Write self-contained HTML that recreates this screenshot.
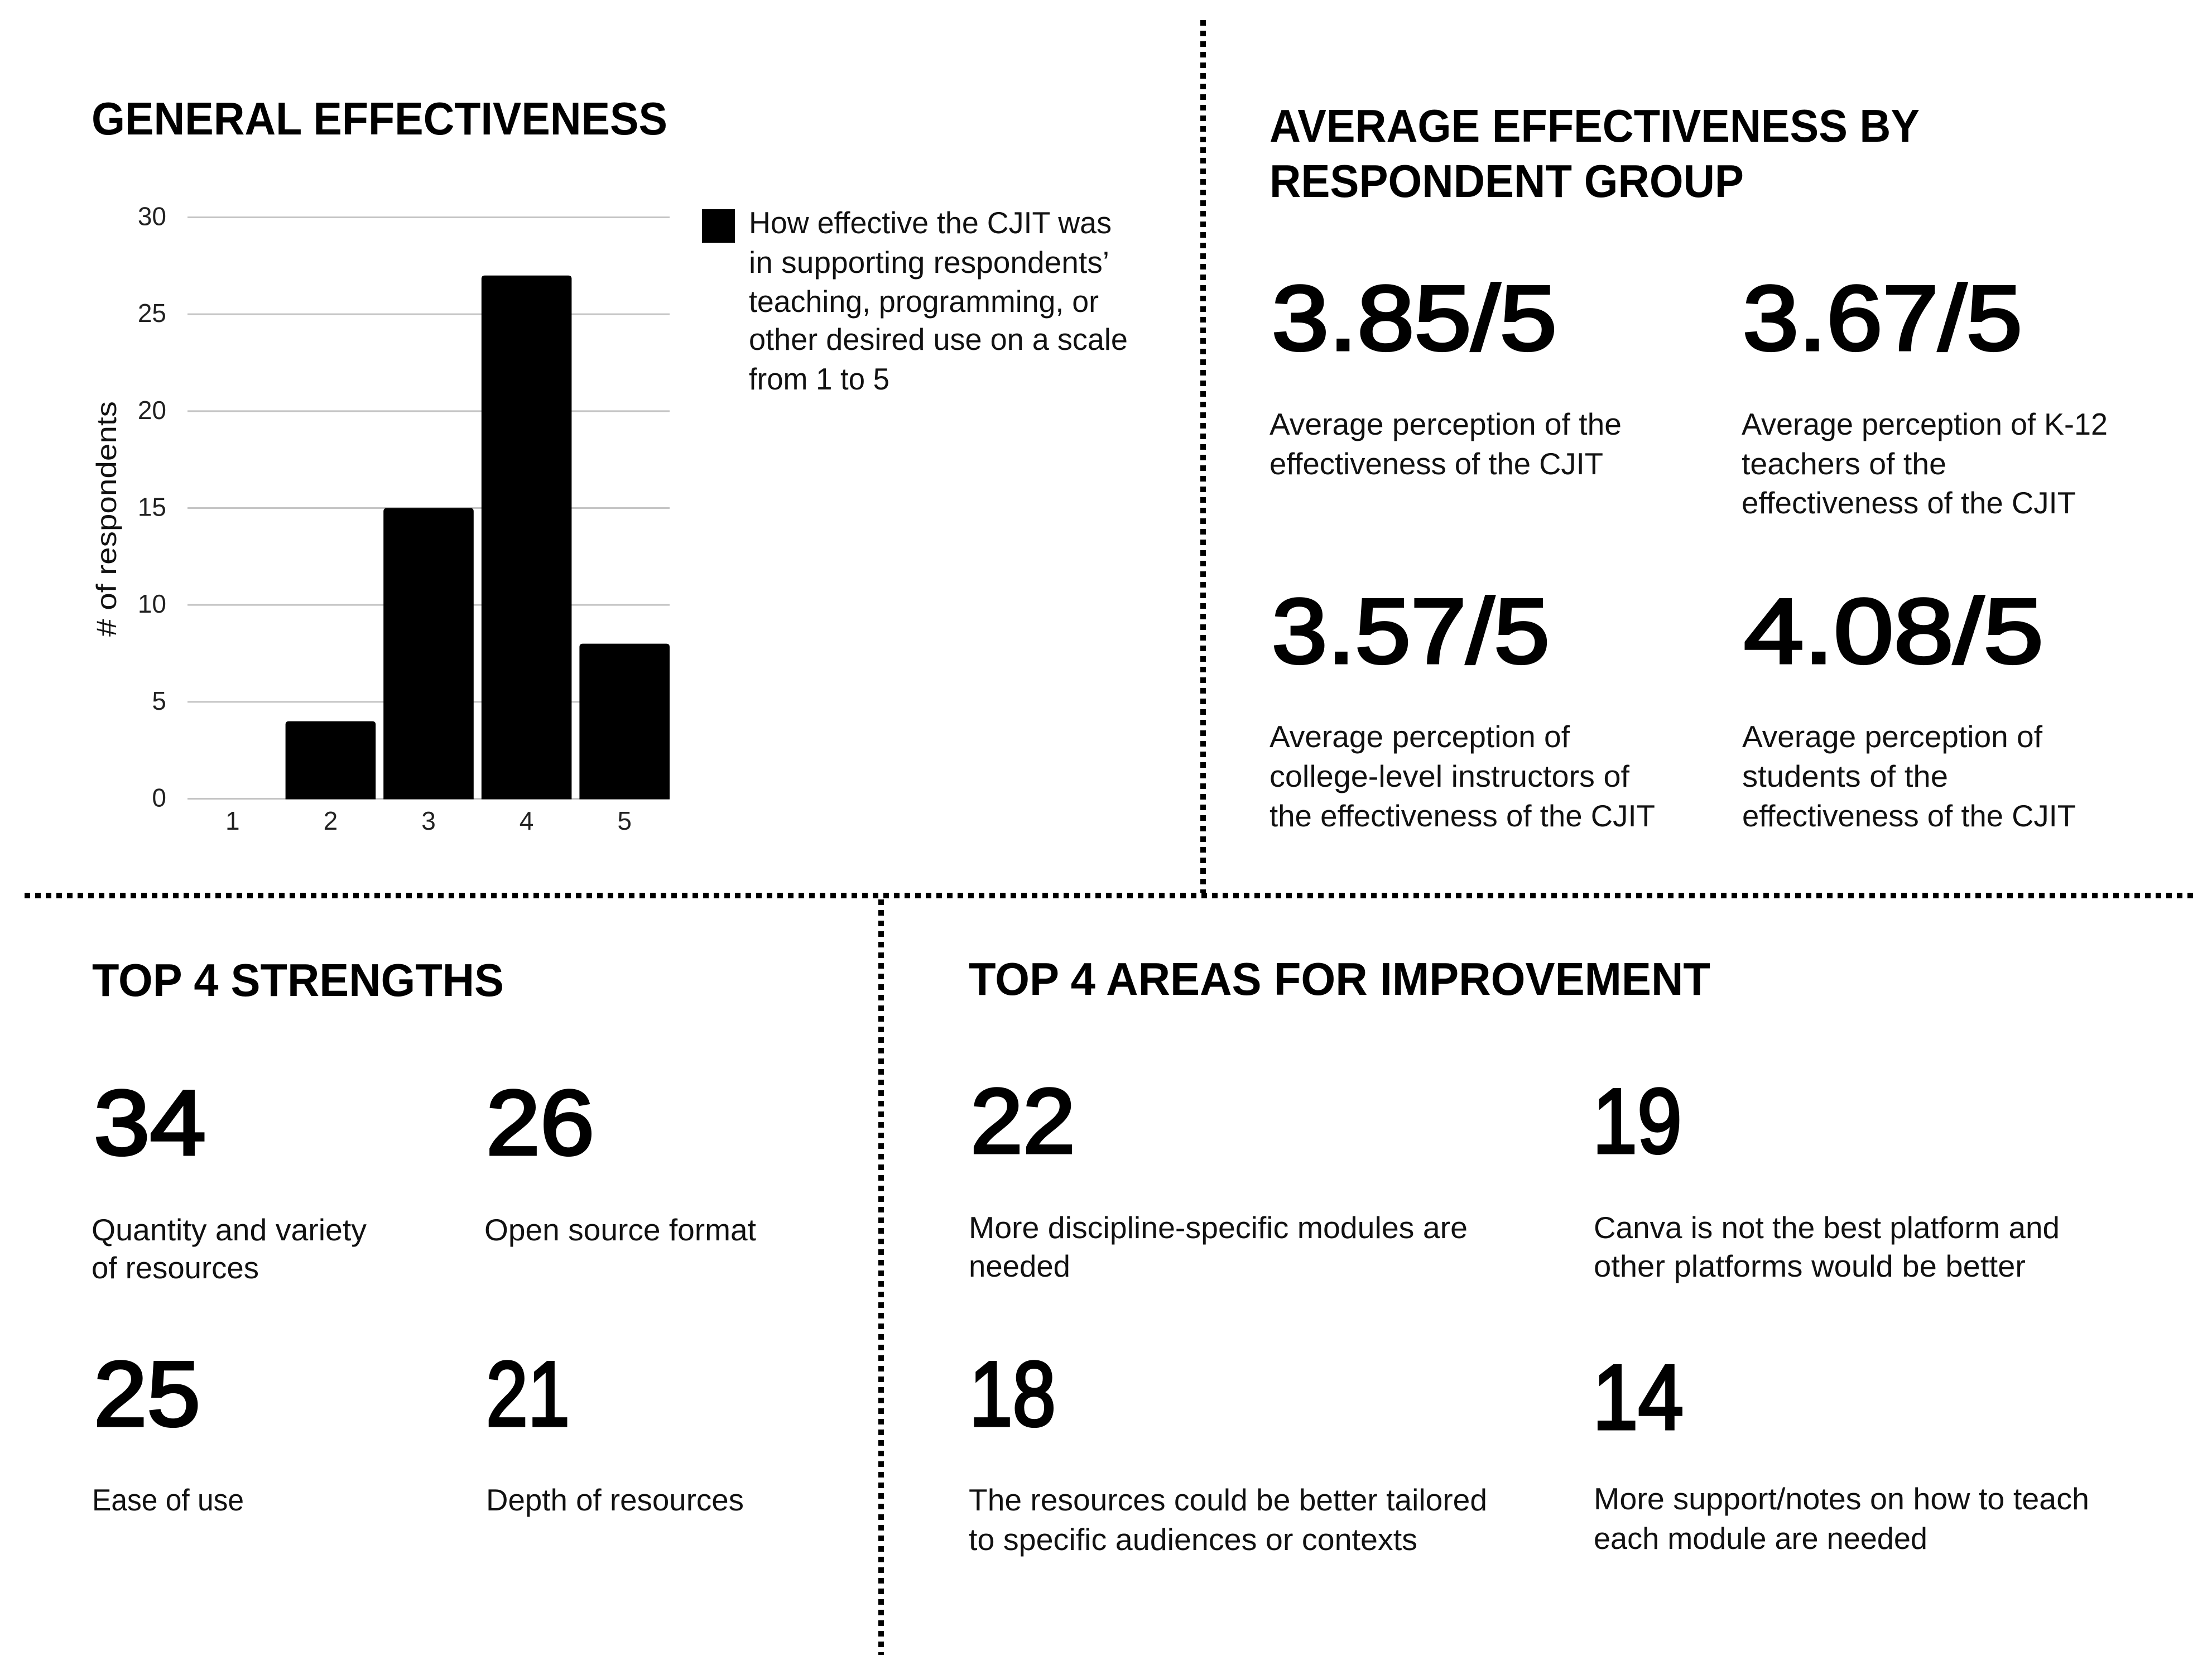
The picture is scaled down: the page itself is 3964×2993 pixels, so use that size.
<!DOCTYPE html>
<html lang="en">
<head>
<meta charset="utf-8">
<title>CJIT effectiveness summary</title>
<style>
html,body{margin:0;padding:0;background:#fff;}
svg{display:block;}
text{font-family:"Liberation Sans",sans-serif;fill:#000;}
.title{font-size:83px;font-weight:700;}
.big{font-size:165px;font-weight:400;stroke:#000;stroke-width:5px;}
.num{font-size:165px;font-weight:400;stroke:#000;stroke-width:5px;}
.desc{font-size:55px;fill:#111;}
.tick{font-size:46px;fill:#222;}
.axis-title{font-size:50px;fill:#111;}
.divider{stroke:#000;stroke-width:10;stroke-dasharray:10 9;fill:none;}
</style>
</head>
<body>
<svg id="page" xmlns="http://www.w3.org/2000/svg" width="3964" height="2993" viewBox="0 0 3964 2993">
  <rect x="0" y="0" width="3964" height="2993" fill="#fff"/>

  <line class="divider" x1="2156" y1="36" x2="2156" y2="1600"/>
  <line class="divider" x1="44" y1="1605" x2="3935" y2="1605"/>
  <line class="divider" x1="1579" y1="1612" x2="1579" y2="2966"/>

  <text class="title" x="164" y="241" textLength="1032" lengthAdjust="spacingAndGlyphs">GENERAL EFFECTIVENESS</text>

  <g id="chart"></g>

  <rect x="1258" y="375" width="59" height="60" fill="#000"/>
  <g>
    <text class="desc" x="1342" y="418" textLength="650" lengthAdjust="spacingAndGlyphs">How effective the CJIT was</text>
    <text class="desc" x="1342" y="489" textLength="646" lengthAdjust="spacingAndGlyphs">in supporting respondents’</text>
    <text class="desc" x="1342" y="559" textLength="627" lengthAdjust="spacingAndGlyphs">teaching, programming, or</text>
    <text class="desc" x="1342" y="627" textLength="679" lengthAdjust="spacingAndGlyphs">other desired use on a scale</text>
    <text class="desc" x="1342" y="698" textLength="252" lengthAdjust="spacingAndGlyphs">from 1 to 5</text>
  </g>

  <text class="title" x="2275" y="254" textLength="1165" lengthAdjust="spacingAndGlyphs">AVERAGE EFFECTIVENESS BY</text>
  <text class="title" x="2275" y="353" textLength="850" lengthAdjust="spacingAndGlyphs">RESPONDENT GROUP</text>

  <text class="big" x="2279" y="627" textLength="511" lengthAdjust="spacingAndGlyphs">3.85/5</text>
  <g>
    <text class="desc" x="2275" y="779" textLength="631" lengthAdjust="spacingAndGlyphs">Average perception of the</text>
    <text class="desc" x="2275" y="850" textLength="598" lengthAdjust="spacingAndGlyphs">effectiveness of the CJIT</text>
  </g>

  <text class="big" x="3123" y="627" textLength="501" lengthAdjust="spacingAndGlyphs">3.67/5</text>
  <g>
    <text class="desc" x="3121" y="779" textLength="656" lengthAdjust="spacingAndGlyphs">Average perception of K-12</text>
    <text class="desc" x="3121" y="850" textLength="367" lengthAdjust="spacingAndGlyphs">teachers of the</text>
    <text class="desc" x="3121" y="920" textLength="599" lengthAdjust="spacingAndGlyphs">effectiveness of the CJIT</text>
  </g>

  <text class="big" x="2279" y="1188" textLength="498" lengthAdjust="spacingAndGlyphs">3.57/5</text>
  <g>
    <text class="desc" x="2275" y="1339" textLength="538" lengthAdjust="spacingAndGlyphs">Average perception of</text>
    <text class="desc" x="2275" y="1410" textLength="645" lengthAdjust="spacingAndGlyphs">college-level instructors of</text>
    <text class="desc" x="2275" y="1481" textLength="691" lengthAdjust="spacingAndGlyphs">the effectiveness of the CJIT</text>
  </g>

  <text class="big" x="3125" y="1188" textLength="537" lengthAdjust="spacingAndGlyphs">4.08/5</text>
  <g>
    <text class="desc" x="3122" y="1339" textLength="538" lengthAdjust="spacingAndGlyphs">Average perception of</text>
    <text class="desc" x="3122" y="1410" textLength="369" lengthAdjust="spacingAndGlyphs">students of the</text>
    <text class="desc" x="3122" y="1481" textLength="598" lengthAdjust="spacingAndGlyphs">effectiveness of the CJIT</text>
  </g>

  <text class="title" x="165" y="1785" textLength="738" lengthAdjust="spacingAndGlyphs">TOP 4 STRENGTHS</text>

  <text class="num" x="168" y="2069" textLength="201" lengthAdjust="spacingAndGlyphs">34</text>
  <g>
    <text class="desc" x="164" y="2223" textLength="493" lengthAdjust="spacingAndGlyphs">Quantity and variety</text>
    <text class="desc" x="164" y="2291" textLength="300" lengthAdjust="spacingAndGlyphs">of resources</text>
  </g>

  <text class="num" x="871" y="2069" textLength="194" lengthAdjust="spacingAndGlyphs">26</text>
  <text class="desc" x="868" y="2223" textLength="487" lengthAdjust="spacingAndGlyphs">Open source format</text>

  <text class="num" x="168" y="2555" textLength="191" lengthAdjust="spacingAndGlyphs">25</text>
  <text class="desc" x="165" y="2707" textLength="272" lengthAdjust="spacingAndGlyphs">Ease of use</text>

  <text class="num" x="871" y="2555" textLength="150" lengthAdjust="spacingAndGlyphs">21</text>
  <text class="desc" x="871" y="2707" textLength="462" lengthAdjust="spacingAndGlyphs">Depth of resources</text>

  <text class="title" x="1736" y="1783" textLength="1329" lengthAdjust="spacingAndGlyphs">TOP 4 AREAS FOR IMPROVEMENT</text>

  <text class="num" x="1739" y="2066" textLength="188" lengthAdjust="spacingAndGlyphs">22</text>
  <g>
    <text class="desc" x="1736" y="2219" textLength="894" lengthAdjust="spacingAndGlyphs">More discipline-specific modules are</text>
    <text class="desc" x="1736" y="2288" textLength="182" lengthAdjust="spacingAndGlyphs">needed</text>
  </g>

  <text class="num" x="2854" y="2066" textLength="160" lengthAdjust="spacingAndGlyphs">19</text>
  <g>
    <text class="desc" x="2856" y="2219" textLength="835" lengthAdjust="spacingAndGlyphs">Canva is not the best platform and</text>
    <text class="desc" x="2856" y="2288" textLength="774" lengthAdjust="spacingAndGlyphs">other platforms would be better</text>
  </g>

  <text class="num" x="1737" y="2555" textLength="155" lengthAdjust="spacingAndGlyphs">18</text>
  <g>
    <text class="desc" x="1736" y="2707" textLength="929" lengthAdjust="spacingAndGlyphs">The resources could be better tailored</text>
    <text class="desc" x="1736" y="2778" textLength="804" lengthAdjust="spacingAndGlyphs">to specific audiences or contexts</text>
  </g>

  <text class="num" x="2854" y="2561" textLength="163" lengthAdjust="spacingAndGlyphs">14</text>
  <g>
    <text class="desc" x="2856" y="2705" textLength="888" lengthAdjust="spacingAndGlyphs">More support/notes on how to teach</text>
    <text class="desc" x="2856" y="2776" textLength="598" lengthAdjust="spacingAndGlyphs">each module are needed</text>
  </g>
</svg>

<script>
var categories = ["1", "2", "3", "4", "5"];
var respondents = [0, 4, 15, 27, 8];
var yTicks = [0, 5, 10, 15, 20, 25, 30];
var yAxisLabel = "# of respondents";

var SVG_NS = "http://www.w3.org/2000/svg";
var chart = document.getElementById("chart");
var plotLeft = 336, plotRight = 1200, plotTop = 389.5, plotBottom = 1431.5;
var yMax = 30;
var bandStep = (plotRight - plotLeft + 14) / categories.length;
var barWidth = bandStep - 14;
var corner = 6;

function yScale(v) {
  return plotBottom - (v / yMax) * (plotBottom - plotTop);
}
function xBandStart(i) {
  return plotLeft + i * bandStep;
}
function make(tag, attrs, text) {
  var el = document.createElementNS(SVG_NS, tag);
  for (var k in attrs) el.setAttribute(k, attrs[k]);
  if (text !== undefined) el.textContent = text;
  return el;
}

yTicks.forEach(function (t) {
  var y = yScale(t);
  var line = make("line", { x1: plotLeft, x2: plotRight, y1: y, y2: y, stroke: "#c4c4c4", "stroke-width": 3 });
  
  
  chart.appendChild(line);
  var label = make("text", { x: 298, y: y + 14, "text-anchor": "end", "class": "tick" }, String(t));
  
  
  chart.appendChild(label);
});

categories.forEach(function (c, i) {
  var x0 = xBandStart(i);
  var x1 = x0 + barWidth;
  var top = yScale(respondents[i]);
  if (respondents[i] > 0) {
    var d = "M" + x0 + " " + (plotBottom + 1) + "V" + (top + corner) +
      "Q" + x0 + " " + top + " " + (x0 + corner) + " " + top +
      "H" + (x1 - corner) +
      "Q" + x1 + " " + top + " " + x1 + " " + (top + corner) +
      "V" + (plotBottom + 1) + "Z";
    var bar = make("path", { d: d, fill: "#000" });
    
    
    chart.appendChild(bar);
  }
  var tick = make("text", { x: x0 + barWidth / 2, y: 1487, "text-anchor": "middle", "class": "tick" }, c);
  
  
  chart.appendChild(tick);
});

var yTitle = make("text", {
  x: 0, y: 0, "class": "axis-title", "text-anchor": "middle",
  transform: "translate(208 930) rotate(-90)",
  textLength: 422, lengthAdjust: "spacingAndGlyphs"
}, yAxisLabel);


chart.appendChild(yTitle);
</script>
</body>
</html>
